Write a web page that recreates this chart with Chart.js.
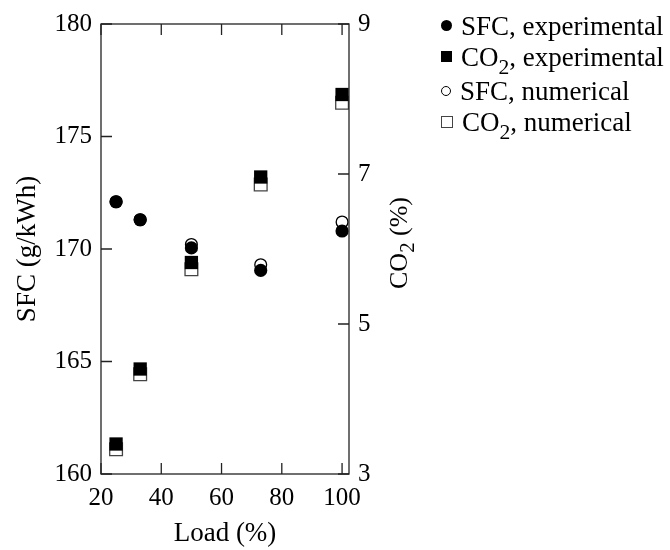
<!DOCTYPE html>
<html>
<head>
<meta charset="utf-8">
<script src="https://cdn.jsdelivr.net/npm/chart.js@4/dist/chart.umd.min.js"></script>
<style>
  body { margin: 0; background: #fff; font-family: "Liberation Serif", serif; }
  #wrap { position: relative; width: 670px; height: 550px; }
  #legend { position: absolute; left: 441px; top: 11px; font-size: 27px; line-height: 31px; color: #000; }
  #legend div { white-space: nowrap; }
  #legend div:nth-child(3) { margin-top: 3px; }
  .mk { display: inline-block; vertical-align: middle; margin-right: 9px; position: relative; top: -3px; }
  .dot { width: 11px; height: 11px; border-radius: 50%; background: #000; }
  .sq { width: 11px; height: 11px; background: #000; }
  .odot { width: 8px; height: 8px; border-radius: 50%; border: 1.3px solid #000; }
  .osq { width: 10px; height: 10px; border: 1.2px solid #444; }
  sub { font-size: 0.8em; vertical-align: -0.35em; line-height: 0; }
  #y2title { position: absolute; left: 399px; top: 243px; font-size: 26px; white-space: nowrap;
             transform: translate(-50%, -50%) rotate(-90deg); }
</style>
</head>
<body>
<div id="wrap">
  <canvas id="chart" width="670" height="550"></canvas>
  <div id="legend">
    <div><span class="mk dot"></span>SFC, experimental</div>
    <div><span class="mk sq"></span>CO<sub>2</sub>, experimental</div>
    <div><span class="mk odot"></span>SFC, numerical</div>
    <div><span class="mk osq"></span>CO<sub>2</sub>, numerical</div>
  </div>
  <div id="y2title">CO<sub>2</sub> (%)</div>
</div>
<script>
// valores
const load = [25, 33, 50, 73, 100];
const sfcExp = [172.1, 171.3, 170.05, 169.05, 170.8];
const sfcNum = [172.1, 171.3, 170.2, 169.3, 171.2];
const co2Exp = [3.4, 4.4, 5.82, 6.96, 8.06];
const co2Num = [3.33, 4.33, 5.73, 6.86, 7.95];

const xTicks = [20, 40, 60, 80, 100];
const sfcTicks = [160, 165, 170, 175, 180];
const co2Ticks = [3, 5, 7, 9];

const toPoints = (ys) => load.map((x, i) => ({ x: x, y: ys[i] }));

// moldura e ticks para dentro
const frameTicks = {
    id: 'frameTicks',
    afterDraw(chart) {
        const { ctx, chartArea: a, scales } = chart;
        const len = 11;
        ctx.save();
        ctx.strokeStyle = '#222';
        ctx.lineWidth = 1.3;
        ctx.strokeRect(a.left, a.top, a.right - a.left, a.bottom - a.top);
        ctx.beginPath();
        xTicks.forEach(v => {
            const px = scales.x.getPixelForValue(v);
            ctx.moveTo(px, a.bottom); ctx.lineTo(px, a.bottom - len);
            ctx.moveTo(px, a.top); ctx.lineTo(px, a.top + len);
        });
        sfcTicks.forEach(v => {
            const py = scales.y.getPixelForValue(v);
            ctx.moveTo(a.left, py); ctx.lineTo(a.left + len, py);
        });
        co2Ticks.forEach(v => {
            const py = scales.y2.getPixelForValue(v);
            ctx.moveTo(a.right, py); ctx.lineTo(a.right - len, py);
        });
        ctx.stroke();
        ctx.restore();
    }
};

Chart.defaults.font.family = '"Liberation Serif", serif';
Chart.defaults.color = '#000';

new Chart(document.getElementById('chart'), {
    type: 'scatter',
    data: {
        datasets: [
            { label: 'SFC, experimental', data: toPoints(sfcExp), yAxisID: 'y',
              pointStyle: 'circle', pointRadius: 6.6, backgroundColor: '#000', borderWidth: 0 },
            { label: 'CO2, experimental', data: toPoints(co2Exp), yAxisID: 'y2',
              pointStyle: 'rect', pointRadius: 9.4, backgroundColor: '#000', borderWidth: 0 },
            { label: 'SFC, numerical', data: toPoints(sfcNum), yAxisID: 'y',
              pointStyle: 'circle', pointRadius: 5.9, backgroundColor: '#fff', borderColor: '#000', borderWidth: 1.3 },
            { label: 'CO2, numerical', data: toPoints(co2Num), yAxisID: 'y2',
              pointStyle: 'rect', pointRadius: 9, backgroundColor: '#fff', borderColor: '#444', borderWidth: 1.3 }
        ]
    },
    options: {
        responsive: false,
        animation: false,
        devicePixelRatio: 1,
        layout: { padding: { top: 19, left: 0, right: 0, bottom: 0 } },
        plugins: { legend: { display: false }, tooltip: { enabled: false } },
        scales: {
            x: {
                type: 'linear', min: 20, max: 102.3,
                afterBuildTicks: s => { s.ticks = xTicks.map(v => ({ value: v })); },
                afterFit: s => { s.height = 76; },
                grid: { display: false, drawTicks: false },
                border: { display: false },
                ticks: { font: { size: 25 }, padding: 9, maxRotation: 0 },
                title: { display: true, text: 'Load (%)', font: { size: 27 }, padding: { top: 0, bottom: 0 } }
            },
            y: {
                position: 'left', min: 160, max: 180,
                afterBuildTicks: s => { s.ticks = sfcTicks.map(v => ({ value: v })); },
                afterFit: s => { s.width = 101; },
                grid: { display: false, drawTicks: false },
                border: { display: false },
                ticks: { font: { size: 25 }, padding: 9 },
                title: { display: true, text: 'SFC (g/kWh)', font: { size: 27 }, padding: { top: 12, bottom: 0 } }
            },
            y2: {
                position: 'right', min: 3, max: 9,
                afterBuildTicks: s => { s.ticks = co2Ticks.map(v => ({ value: v })); },
                afterFit: s => { s.width = 321; },
                grid: { display: false, drawTicks: false },
                border: { display: false },
                ticks: { font: { size: 25 }, padding: 9 }
            }
        }
    },
    plugins: [frameTicks]
});
</script>
</body>
</html>
